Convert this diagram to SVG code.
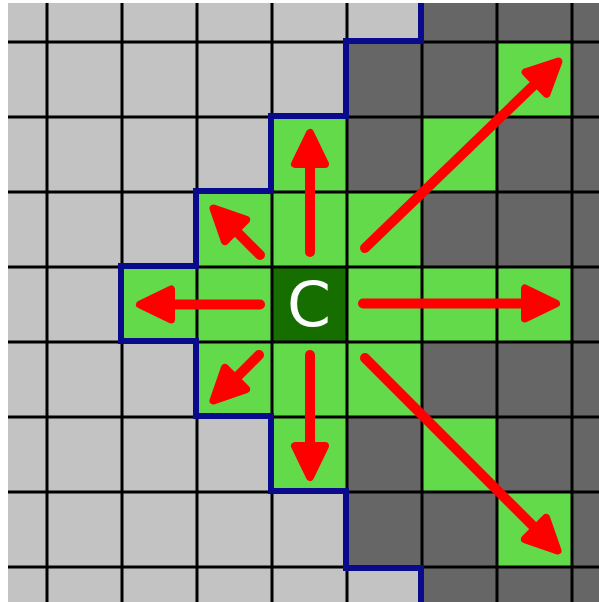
<svg xmlns="http://www.w3.org/2000/svg" width="599" height="602" viewBox="0 0 599 602">
<style>
.g{fill:#62da4a}
.grid line{stroke:#000;stroke-width:3}
.shaft{stroke:#ff0000;stroke-width:10;stroke-linecap:round;fill:none}
.head{fill:#ff0000;stroke:#ff0000;stroke-width:8;stroke-linejoin:round}
</style>
<rect x="0" y="0" width="599" height="602" fill="#ffffff"/>
<g id="board">
<rect x="8" y="3" width="591" height="599" fill="#c3c3c3"/>
<path d="M422,3 V42 H347 V117 H272 V192 H197 V267 H122 V342 H197 V417 H272 V492 H347 V567 H422 V602 H599 V3 Z" fill="#666666"/>
</g>
<g id="cells">
<rect class="g" x="497" y="42" width="75" height="75"/>
<rect class="g" x="272" y="117" width="75" height="75"/>
<rect class="g" x="422" y="117" width="75" height="75"/>
<rect class="g" x="197" y="192" width="75" height="75"/>
<rect class="g" x="272" y="192" width="75" height="75"/>
<rect class="g" x="347" y="192" width="75" height="75"/>
<rect class="g" x="122" y="267" width="75" height="75"/>
<rect class="g" x="197" y="267" width="75" height="75"/>
<rect class="g" x="347" y="267" width="75" height="75"/>
<rect class="g" x="422" y="267" width="75" height="75"/>
<rect class="g" x="497" y="267" width="75" height="75"/>
<rect class="g" x="197" y="342" width="75" height="75"/>
<rect class="g" x="272" y="342" width="75" height="75"/>
<rect class="g" x="347" y="342" width="75" height="75"/>
<rect class="g" x="272" y="417" width="75" height="75"/>
<rect class="g" x="422" y="417" width="75" height="75"/>
<rect class="g" x="497" y="492" width="75" height="75"/>
</g>
<g id="center">
<rect x="272" y="267" width="75" height="75" fill="#166e00"/>
</g>
<g class="grid" id="grid">
<line x1="47" y1="3" x2="47" y2="602"/>
<line x1="122" y1="3" x2="122" y2="602"/>
<line x1="197" y1="3" x2="197" y2="602"/>
<line x1="272" y1="3" x2="272" y2="602"/>
<line x1="347" y1="3" x2="347" y2="602"/>
<line x1="422" y1="3" x2="422" y2="602"/>
<line x1="497" y1="3" x2="497" y2="602"/>
<line x1="572" y1="3" x2="572" y2="602"/>
<line x1="8" y1="42" x2="599" y2="42"/>
<line x1="8" y1="117" x2="599" y2="117"/>
<line x1="8" y1="192" x2="599" y2="192"/>
<line x1="8" y1="267" x2="599" y2="267"/>
<line x1="8" y1="342" x2="599" y2="342"/>
<line x1="8" y1="417" x2="599" y2="417"/>
<line x1="8" y1="492" x2="599" y2="492"/>
<line x1="8" y1="567" x2="599" y2="567"/>
</g>
<g id="boundary">
<path d="M421,3 V41 H346 V116 H271 V191 H196 V266 H121 V341 H196 V416 H271 V491 H346 V568 H421 V602" fill="none" stroke="#0a0a8c" stroke-width="6" stroke-linejoin="miter"/>
</g>
<text x="309" y="326" font-family="DejaVu Sans, sans-serif" font-size="63" fill="#ffffff" text-anchor="middle">C</text>
<g id="connectors">
<line class="shaft" x1="310" y1="252" x2="310" y2="160"/>
<polygon class="head" points="310,133 295,164 325,164"/>
<line class="shaft" x1="260" y1="304.5" x2="165" y2="304.5"/>
<polygon class="head" points="140,304.5 171,289.5 171,319.5"/>
<line class="shaft" x1="363" y1="303.5" x2="530" y2="303.5"/>
<polygon class="head" points="556,303.5 525,288.5 525,318.5"/>
<line class="shaft" x1="310" y1="355" x2="310" y2="450"/>
<polygon class="head" points="310,477 295,446 325,446"/>
<line class="shaft" x1="260" y1="255" x2="238" y2="233"/>
<polygon class="head" points="213.5,208.5 246.1,219.9 224.9,241.1"/>
<line class="shaft" x1="259" y1="355" x2="238" y2="376"/>
<polygon class="head" points="213.5,400.5 246.1,389.1 224.9,367.9"/>
<line class="shaft" x1="365" y1="248" x2="540.4" y2="78.8"/>
<polygon class="head" points="558.4,61.5 546.5,93.8 525.7,72.2"/>
<line class="shaft" x1="365" y1="358" x2="539.8" y2="532.8"/>
<polygon class="head" points="557.5,550.5 524.9,539.1 546.1,517.9"/>
</g>
</svg>
